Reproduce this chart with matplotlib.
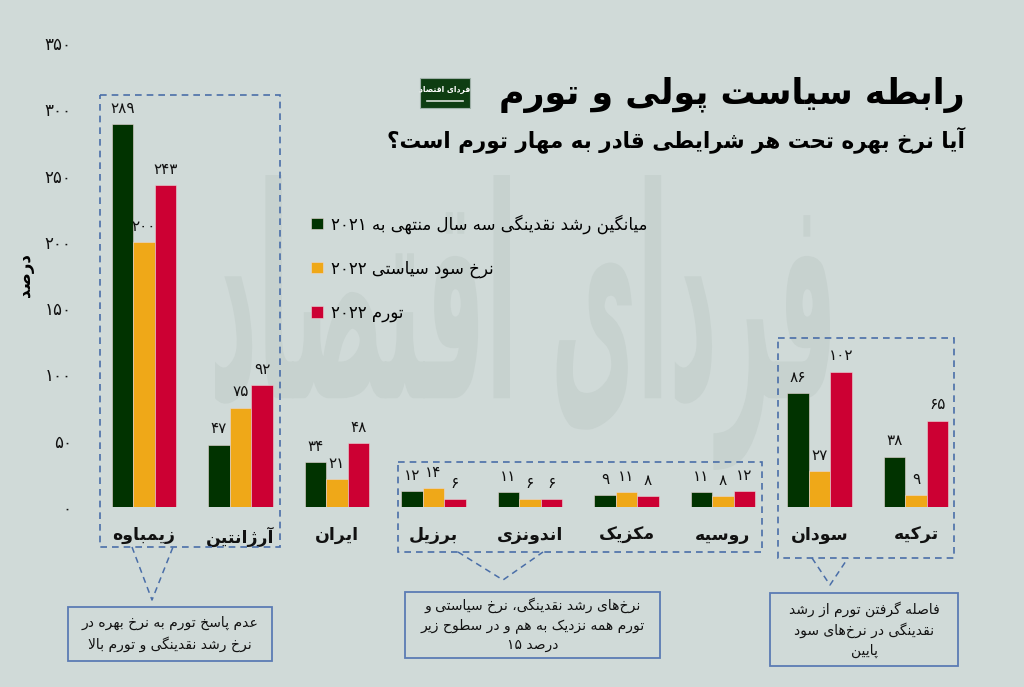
import re
import matplotlib
matplotlib.use('Agg')
import matplotlib.pyplot as plt
from matplotlib.patches import Rectangle, PathPatch
from matplotlib.lines import Line2D
from matplotlib.textpath import TextPath
from matplotlib.font_manager import FontProperties
from matplotlib.transforms import Affine2D

plt.rcParams['font.family'] = ['DejaVu Sans']

# ---------------- data ----------------
categories = ['زیمباوه', 'آرژانتین', 'ایران', 'برزیل', 'اندونزی', 'مکزیک', 'روسیه', 'سودان', 'ترکیه']
liquidity_growth = [289, 47, 34, 12, 11, 9, 11, 86, 38]
policy_rate = [200, 75, 21, 14, 6, 11, 8, 27, 9]
inflation = [243, 92, 48, 6, 6, 8, 12, 102, 65]
series_names = ['میانگین رشد نقدینگی سه سال منتهی به ۲۰۲۱', 'نرخ سود سیاستی ۲۰۲۲', 'تورم ۲۰۲۲']
y_ticks = [0, 50, 100, 150, 200, 250, 300, 350]
title = 'رابطه سیاست پولی و تورم'
subtitle = 'آیا نرخ بهره تحت هر شرایطی قادر به مهار تورم است؟'
y_label = 'درصد'
note1 = 'عدم پاسخ تورم به نرخ بهره در\nنرخ رشد نقدینگی و تورم بالا'
note2 = 'نرخ\u200cهای رشد نقدینگی، نرخ سیاستی و\nتورم همه نزدیک به هم و در سطوح زیر\nدرصد ۱۵'
note3 = 'فاصله گرفتن تورم از رشد\nنقدینگی در نرخ\u200cهای سود\nپایین'
logo_text = 'فردای اقتصاد'

# ---------------- Persian shaping ----------------
_F = {
    'ء': ('\uFE80', None, None, None),
    'آ': ('\uFE81', '\uFE82', None, None),
    'أ': ('\uFE83', '\uFE84', None, None),
    'ا': ('\uFE8D', '\uFE8E', None, None),
    'ب': ('\uFE8F', '\uFE90', '\uFE91', '\uFE92'),
    'ة': ('\uFE93', '\uFE94', None, None),
    'ت': ('\uFE95', '\uFE96', '\uFE97', '\uFE98'),
    'ث': ('\uFE99', '\uFE9A', '\uFE9B', '\uFE9C'),
    'ج': ('\uFE9D', '\uFE9E', '\uFE9F', '\uFEA0'),
    'ح': ('\uFEA1', '\uFEA2', '\uFEA3', '\uFEA4'),
    'خ': ('\uFEA5', '\uFEA6', '\uFEA7', '\uFEA8'),
    'د': ('\uFEA9', '\uFEAA', None, None),
    'ذ': ('\uFEAB', '\uFEAC', None, None),
    'ر': ('\uFEAD', '\uFEAE', None, None),
    'ز': ('\uFEAF', '\uFEB0', None, None),
    'س': ('\uFEB1', '\uFEB2', '\uFEB3', '\uFEB4'),
    'ش': ('\uFEB5', '\uFEB6', '\uFEB7', '\uFEB8'),
    'ص': ('\uFEB9', '\uFEBA', '\uFEBB', '\uFEBC'),
    'ض': ('\uFEBD', '\uFEBE', '\uFEBF', '\uFEC0'),
    'ط': ('\uFEC1', '\uFEC2', '\uFEC3', '\uFEC4'),
    'ظ': ('\uFEC5', '\uFEC6', '\uFEC7', '\uFEC8'),
    'ع': ('\uFEC9', '\uFECA', '\uFECB', '\uFECC'),
    'غ': ('\uFECD', '\uFECE', '\uFECF', '\uFED0'),
    'ف': ('\uFED1', '\uFED2', '\uFED3', '\uFED4'),
    'ق': ('\uFED5', '\uFED6', '\uFED7', '\uFED8'),
    'ك': ('\uFED9', '\uFEDA', '\uFEDB', '\uFEDC'),
    'ل': ('\uFEDD', '\uFEDE', '\uFEDF', '\uFEE0'),
    'م': ('\uFEE1', '\uFEE2', '\uFEE3', '\uFEE4'),
    'ن': ('\uFEE5', '\uFEE6', '\uFEE7', '\uFEE8'),
    'ه': ('\uFEE9', '\uFEEA', '\uFEEB', '\uFEEC'),
    'و': ('\uFEED', '\uFEEE', None, None),
    'ى': ('\uFEEF', '\uFEF0', None, None),
    'ي': ('\uFEF1', '\uFEF2', '\uFEF3', '\uFEF4'),
    'پ': ('\uFB56', '\uFB57', '\uFB58', '\uFB59'),
    'چ': ('\uFB7A', '\uFB7B', '\uFB7C', '\uFB7D'),
    'ژ': ('\uFB8A', '\uFB8B', None, None),
    'ک': ('\uFB8E', '\uFB8F', '\uFB90', '\uFB91'),
    'گ': ('\uFB92', '\uFB93', '\uFB94', '\uFB95'),
    'ی': ('\uFBFC', '\uFBFD', '\uFBFE', '\uFBFF'),
}
_LAM_ALEF = {'ا': ('\uFEFB', '\uFEFC'), 'آ': ('\uFEF5', '\uFEF6'), 'أ': ('\uFEF7', '\uFEF8')}


def _dual(c):
    return c in _F and _F[c][2] is not None


def _shape(s):
    out = []
    n = len(s)
    i = 0
    while i < n:
        c = s[i]
        if c not in _F:
            if c != '\u200c':
                out.append(c)
            i += 1
            continue
        prev = s[i - 1] if i > 0 else ''
        cp = _dual(prev)
        if c == 'ل' and i + 1 < n and s[i + 1] in _LAM_ALEF:
            lig = _LAM_ALEF[s[i + 1]]
            out.append(lig[1] if cp else lig[0])
            i += 2
            continue
        nxt = s[i + 1] if i + 1 < n else ''
        cn = _dual(c) and nxt in _F and nxt != 'ء'
        iso, fin, ini, med = _F[c]
        if cp and cn:
            g = med
        elif cp:
            g = fin
        elif cn:
            g = ini
        else:
            g = iso
        out.append(g)
        i += 1
    return ''.join(out)


def fa(s):
    res = []
    for ln in s.split('\n'):
        v = _shape(ln)[::-1]
        v = re.sub(r'[0-9\u06F0-\u06F9\u0660-\u0669]+', lambda m: m.group(0)[::-1], v)
        res.append(v)
    return '\n'.join(res)


_DIG = str.maketrans('0123456789', '۰۱۲۳۴۵۶۷۸۹')


def fa_num(v):
    return str(v).translate(_DIG)


# ---------------- style ----------------
BG = '#d0dad8'
COLORS = ['#013300', '#efa818', '#cc0033']
DASH = '#4a6ea8'
BOX = '#5b7bb4'

fig = plt.figure(figsize=(10.24, 6.87), dpi=100, facecolor=BG)

# background watermark layer
bg_ax = fig.add_axes([0, 0, 1, 1], zorder=0)
bg_ax.set_xlim(0, 1024)
bg_ax.set_ylim(687, 0)
bg_ax.axis('off')
tp = TextPath((0, 0), fa(logo_text), size=100, prop=FontProperties(family='DejaVu Sans', weight='bold'))
ext = tp.get_extents()
wx0, wy0, wx1, wy1 = 215, 175, 830, 470
tr = (Affine2D().translate(-ext.x0, -ext.y0)
      .scale((wx1 - wx0) / ext.width, -(wy1 - wy0) / ext.height)
      .translate(wx0, wy1))
bg_ax.add_patch(PathPatch(tr.transform_path(tp), facecolor='#c7d2cf', edgecolor='none'))

# main axes
L, R, B, T = 80, 1010, 507, 43
ax = fig.add_axes([L / 1024, 1 - B / 687, (R - L) / 1024, (B - T) / 687], zorder=2)
ax.set_facecolor('none')
x0, step = 144, 96.5
ax.set_xlim((L - x0) / step, (R - x0) / step)
ax.set_ylim(0, 350)

w = 0.2225
xs = list(range(len(categories)))
series = [liquidity_growth, policy_rate, inflation]
for j, (vals, col, name) in enumerate(zip(series, COLORS, series_names)):
    pos = [x + (j - 1) * w for x in xs]
    bars = ax.bar(pos, vals, width=w, color=col, edgecolor='#e8d8d8', linewidth=0.4,
                  label=fa(name))
    ax.bar_label(bars, labels=[fa_num(v) for v in vals], padding=6, fontsize=11, color='#111111')

for s in ax.spines.values():
    s.set_visible(False)
ax.set_yticks(y_ticks)
ax.set_yticklabels([fa_num(v) for v in y_ticks], fontsize=12, color='#111111')
ax.set_xticks(xs)
ax.set_xticklabels([fa(c) for c in categories], fontsize=12.5, fontweight='bold', color='#111111')
ax.tick_params(axis='both', length=0)
ax.tick_params(axis='y', pad=6)
ax.tick_params(axis='x', pad=14)
ax.set_ylabel(fa(y_label), fontsize=12, fontweight='bold', labelpad=8)

leg = ax.legend(loc='upper left', bbox_to_anchor=(296 / 1024, 1 - 199 / 687),
                bbox_transform=fig.transFigure, frameon=False, fontsize=12,
                handlelength=0.7, handleheight=0.7, handletextpad=0.5, labelspacing=1.55)

# overlay layer for boxes and texts
ov = fig.add_axes([0, 0, 1, 1], zorder=3)
ov.set_facecolor('none')
ov.set_xlim(0, 1024)
ov.set_ylim(687, 0)
ov.axis('off')

dash_boxes = [(100, 95, 280, 547), (398, 462, 762, 552), (778, 338, 954, 558)]
for (xa, ya, xb, yb) in dash_boxes:
    ov.add_patch(Rectangle((xa, ya), xb - xa, yb - ya, fill=False, edgecolor=DASH,
                           linewidth=1.2, linestyle=(0, (4, 3))))

pointers = [((132, 547), (152, 600), (173, 547)),
            ((458, 552), (503, 580), (543, 552)),
            ((812, 558), (830, 585), (848, 558))]
for p in pointers:
    ov.add_line(Line2D([p[0][0], p[1][0], p[2][0]], [p[0][1], p[1][1], p[2][1]],
                       color=DASH, linewidth=1.1, linestyle=(0, (4, 3))))

notes = [((68, 607, 272, 661), note1), ((405, 592, 660, 658), note2), ((770, 593, 958, 666), note3)]
for (xa, ya, xb, yb), txt in notes:
    ov.add_patch(Rectangle((xa, ya), xb - xa, yb - ya, fill=False, edgecolor=BOX, linewidth=1.3))
    ov.text((xa + xb) / 2, (ya + yb) / 2, fa(txt), ha='center', va='center', fontsize=10,
            linespacing=1.45, color='#111111', multialignment='center')

# title and subtitle
ov.text(965, 95, fa(title), ha='right', va='center', fontsize=25, fontweight='bold', color='#000000')
ov.text(965, 140, fa(subtitle), ha='right', va='center', fontsize=15.5, fontweight='bold',
        color='#000000')

# logo
ov.add_patch(Rectangle((420, 78), 50, 30, facecolor='#0e3d12', edgecolor='#9fb0a8', linewidth=0.8))
ov.text(445, 90, fa(logo_text), ha='center', va='center', fontsize=5.5, fontweight='bold', color='white')
ov.add_line(Line2D([427, 463], [101, 101], color='#d8e0d8', linewidth=1.2))

fig.savefig('out.png', dpi=100, facecolor=BG)
